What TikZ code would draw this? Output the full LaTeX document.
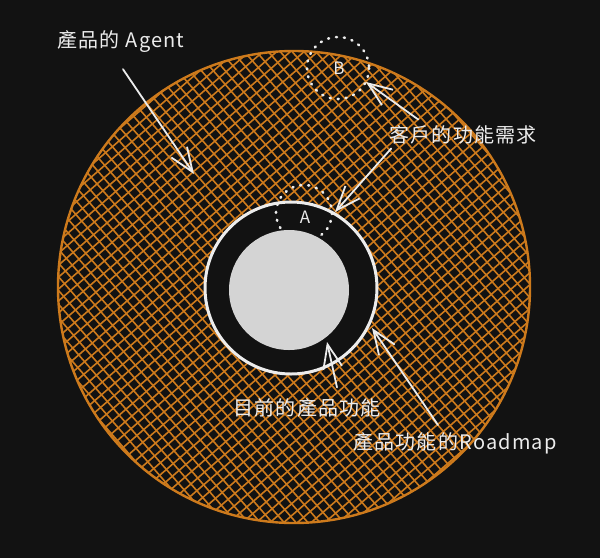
\documentclass[tikz,border=0pt]{standalone}
\usepackage{fontspec}
\newfontfamily\cjk[LetterSpace=6]{Noto Sans CJK TC}
\usetikzlibrary{arrows.meta}

\definecolor{bgdark}{RGB}{18,18,18}
\definecolor{agentorange}{RGB}{205,122,28}
\definecolor{featuregray}{RGB}{212,212,212}
\definecolor{chalk}{RGB}{236,236,236}

\tikzset{
	hatch/.style={draw=agentorange, line width=1.6pt},
	chalktext/.style={text=chalk, font=\cjk\fontsize{20}{22}\selectfont, inner sep=1pt},
	lettertext/.style={text=chalk, font=\cjk\fontsize{17}{19}\selectfont, inner sep=1pt},
	pointer/.style={draw=chalk, line width=1.8pt, line cap=round,
		-{Straight Barb[length=24pt, width=19pt, line width=1.8pt]}},
	dottedring/.style={draw=chalk, line width=2.6pt, line cap=round, dash pattern=on 1pt off 7pt},
}

\begin{document}
\begin{tikzpicture}[x=1pt, y=-1pt]
		\fill [bgdark] (0,0) rectangle (600,558);
		\useasboundingbox (0,0) rectangle (600,558);

		\coordinate (agent centre) at (294,287);
		\coordinate (roadmap centre) at (291,288);
		\coordinate (current centre) at (289,290);

		\begin{scope}
			\clip (agent centre) circle [radius=236];
			\begin{scope}[rotate around={41:(agent centre)}]
				\foreach \d in {-252,-243,...,252} {
					\draw [hatch] (294+\d,37) -- (294+\d,537);
					\draw [hatch] (44,287+\d) -- (544,287+\d);
				}
			\end{scope}
		\end{scope}
		\draw [draw=agentorange, line width=2.4pt] (agent centre) circle [radius=236];

		\begin{scope}
			\draw [draw=chalk, fill=bgdark, line width=3pt] (roadmap centre) circle [radius=86];
			\draw [dottedring] (304,213) circle [radius=28];
			\fill [featuregray] (current centre) circle [radius=60];
			\draw [dottedring] (338,68) circle [radius=31];
		\end{scope}

		\begin{scope}
			\node (a) [lettertext] at (305,217) {A};
			\node (b) [lettertext] at (339,68) {B};

			\node (agent) [chalktext] at (121,42) {產品的 Agent};
			\node (needs) [chalktext] at (463,135) {客戶的功能需求};
			\node (current) [chalktext] at (307,408) {目前的產品功能};
			\node (roadmap) [chalktext] at (455,443) {產品功能的Roadmap};
		\end{scope}

		\begin{scope}
			\coordinate (agent tip) at (194,174);
			\coordinate (b tip) at (366,82);
			\coordinate (a tip) at (335,212);
			\coordinate (current tip) at (327,342);
			\coordinate (roadmap tip) at (372,328);

			\draw [pointer] ([xshift=2pt, yshift=-15pt]agent.south) -- (agent tip);
			\draw [pointer] ([xshift=30pt, yshift=5pt]needs.north west) -- (b tip);
			\draw [pointer] ([xshift=3pt, yshift=-3pt]needs.south west) -- (a tip);
			\draw [pointer] ([xshift=30pt, yshift=10pt]current.north) -- (current tip);
			\draw [pointer] ([xshift=-17pt, yshift=6pt]roadmap.north) -- (roadmap tip);
		\end{scope}
	\end{tikzpicture}
\end{document}
